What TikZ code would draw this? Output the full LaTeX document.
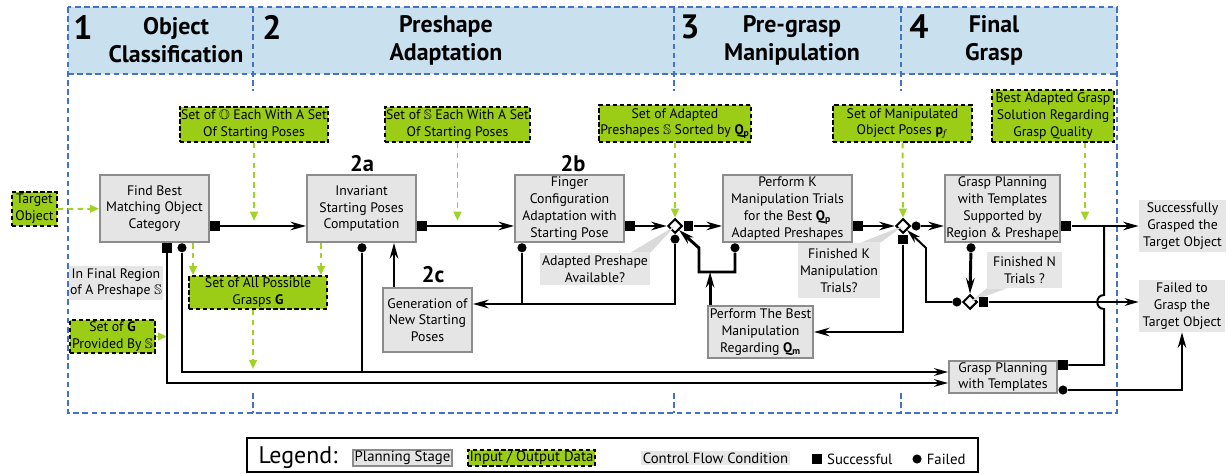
\documentclass[tikz,border=0pt]{standalone}
\usepackage{amssymb}
\usepackage{fontspec}
\setmainfont{PT Sans}
\usetikzlibrary{positioning,shapes.geometric,arrows.meta,calc}

\definecolor{headblue}{RGB}{201,225,239}
\definecolor{frameblue}{RGB}{68,114,196}
\definecolor{datagreen}{RGB}{155,204,22}
\definecolor{feedgreen}{RGB}{160,210,40}
\definecolor{stagefill}{RGB}{229,229,229}
\definecolor{stageline}{RGB}{140,140,140}
\definecolor{condfill}{RGB}{230,230,230}
\definecolor{wedgegray}{RGB}{218,218,218}

\newcommand{\boxfont}{\fontsize{9.8}{11.9}\selectfont}
\newcommand{\legfont}{\fontsize{10.5}{12}\selectfont}

\tikzset{
  frame/.style={frameblue, line width=1.2pt, dash pattern=on 4pt off 2.5pt},
  stage/.style={draw=stageline, line width=1.3pt, fill=stagefill, align=center, inner sep=1pt, font=\boxfont},
  data/.style={draw=black, dash pattern=on 3pt off 2pt, line width=1.2pt, fill=datagreen, align=center, inner sep=1pt, font=\boxfont},
  cond/.style={fill=condfill, align=center, inner sep=1pt, font=\boxfont},
  gate/.style={diamond, draw=black, fill=white, line width=1.5pt, minimum size=0.36cm, inner sep=0pt},
  okmark/.style={rectangle, fill=black, minimum size=7pt, inner sep=0pt},
  nomark/.style={circle, fill=black, minimum size=6.5pt, inner sep=0pt},
  flow/.style={line width=2.1pt, -{Stealth[length=11pt,width=6pt]}},
  thinflow/.style={line width=1.4pt, -{Stealth[length=10pt,width=5.5pt]}},
  feed/.style={feedgreen, line width=1.4pt, dash pattern=on 4pt off 3pt, -{Triangle[length=6.5pt,width=5.5pt]}},
  numtag/.style={font=\fontsize{24}{24}\selectfont\bfseries},
  headtxt/.style={align=center, font=\fontsize{17}{20}\selectfont\bfseries},
  subtag/.style={inner sep=0pt, font=\fontsize{16}{16}\selectfont\bfseries},
}

\begin{document}
\begin{tikzpicture}[x=0.025cm, y=-0.025cm]
\useasboundingbox (0,0) rectangle (1228,473);

% stage columns
\fill[headblue] (68,7) rectangle (1117,74);
\draw[frame] (68,7) rectangle (1117,413);
\draw[frame] (68,74) -- (1117,74);
\foreach \xs in {253,674,901} {
  \draw[frame] (\xs,7) -- (\xs,91);
  \draw[frame] (\xs,393) -- (\xs,413);
}
\node[numtag] (n1) at (83,27) {1};
\node[headtxt] (h1) at (176,40) {Object\\Classification};
\node[numtag] (n2) at (272,27) {2};
\node[headtxt] (h2) at (446,40) {Preshape\\Adaptation};
\node[numtag] (n3) at (690,27) {3};
\node[headtxt] (h3) at (792,40) {Pre-grasp\\Manipulation};
\node[numtag] (n4) at (919,27) {4};
\node[headtxt] (h4) at (994,40) {Final\\Grasp};

% planning stages
\node[stage, minimum width=2.725cm, minimum height=1.675cm] (fb) at (154.5,208.5) {Find Best\\Matching Object\\Category};
\node[stage, minimum width=2.725cm, minimum height=1.675cm] (inv) at (361.5,208.5) {Invariant\\Starting Poses\\Computation};
\node[stage, minimum width=2.725cm, minimum height=1.675cm] (fin) at (569.5,208.5) {Finger\\Configuration\\Adaptation with\\Starting Pose};
\node[stage, minimum width=3.225cm, minimum height=1.675cm] (pk) at (787.5,208.5) {Perform K\\Manipulation Trials\\for the Best $\mathbf{Q}_\mathbf{p}$\\Adapted Preshapes};
\node[stage, minimum width=2.725cm, minimum height=1.675cm] (gp) at (1002.5,208.5) {Grasp Planning\\with Templates\\Supported by\\Region \& Preshape};
\node[stage, minimum width=2.225cm, minimum height=1.6cm] (gen) at (427.5,320) {Generation of\\New Starting\\Poses};
\node[stage, minimum width=2.625cm, minimum height=1.3cm] (pb) at (760.5,332) {Perform The Best\\Manipulation\\Regarding $\mathbf{Q}_\mathbf{m}$};
\node[stage, minimum width=2.7cm, minimum height=0.8cm] (gp2) at (1003,377) {Grasp Planning\\with Templates};
\node[subtag] (t2a) at (362,164) {2a};
\node[subtag] (t2b) at (573,164) {2b};
\node[subtag] (t2c) at (433,275) {2c};

% input / output data
\node[data, minimum width=1.125cm, minimum height=0.85cm] (tgt) at (34.5,209) {Target\\Object};
\node[data, minimum width=3.6cm, minimum height=0.875cm] (so) at (254,124.5) {Set of $\mathbb{O}$ Each With A Set\\Of Starting Poses};
\node[data, minimum width=3.625cm, minimum height=0.875cm] (ss) at (457.5,124.5) {Set of $\mathbb{S}$ Each With A Set\\Of Starting Poses};
\node[data, minimum width=3.8cm, minimum height=0.925cm] (sa) at (675,123.5) {Set of Adapted\\Preshapes $\mathbb{S}$ Sorted by $\mathbf{Q}_\mathbf{p}$};
\node[data, minimum width=3.475cm, minimum height=0.925cm] (sm) at (902.5,123.5) {Set of Manipulated\\Object Poses $\mathbf{p}_{\!f}$};
\node[data, minimum width=3.05cm, minimum height=1.3cm] (bag) at (1053,116) {Best Adapted Grasp\\Solution Regarding\\Grasp Quality};
\node[data, minimum width=3.45cm, minimum height=0.825cm] (sg) at (258,292.5) {Set of All Possible\\Grasps $\mathbf{G}$};
\node[data, minimum width=2.125cm, minimum height=0.825cm] (sgs) at (112.5,336.5) {Set of $\mathbf{G}$\\Provided By $\mathbb{S}$};

% control flow conditions
\node[cond, minimum width=2.3cm, minimum height=0.85cm] (cfr) at (116,283) {In Final Region\\of A Preshape $\mathbb{S}$};
\node[cond, minimum width=2.75cm, minimum height=0.8cm] (cap) at (595,269) {Adapted Preshape\\Available?};
\node[cond, minimum width=2.05cm, minimum height=1.375cm] (cfk) at (839,270.5) {Finished K\\Manipulation\\Trials?};
\node[cond, minimum width=1.875cm, minimum height=0.9cm] (cfn) at (1024.5,270) {Finished N\\Trials ?};
\node[cond, minimum width=2.175cm, minimum height=1.3cm] (okres) at (1182.5,226) {Successfully\\Grasped the\\Target Object};
\node[cond, minimum width=2.15cm, minimum height=1.3cm] (failres) at (1182,306) {Failed to\\Grasp the\\Target Object};

% decisions
\node[gate] (d1) at (675,226) {};
\node[gate] (d2) at (903,226) {};
\node[gate] (d3) at (970,302) {};
\fill[wedgegray] (cap.north east) -- ($(cap.north east)+(-20,0)$) -- (d1.center) -- cycle;
\fill[wedgegray] (cfk.north east) -- ($(cfk.north east)+(-20,0)$) -- (d2.center) -- cycle;
\fill[wedgegray] (cfn.south west) -- ($(cfn.south west)+(20,0)$) -- (d3.center) -- cycle;

% outcome marks
\node[okmark, anchor=west] (fbok) at (fb.east |- 0,226) {};
\node[okmark, anchor=north] (fbok2) at (167,0 |- fb.south) {};
\node[nomark, anchor=north] (fbno) at (182,0 |- fb.south) {};
\node[okmark, anchor=west] (invok) at (inv.east |- 0,226) {};
\node[nomark, anchor=north] (invno) at (362,0 |- inv.south) {};
\node[okmark, anchor=west] (finok) at (fin.east |- 0,226) {};
\node[nomark, anchor=north] (finno) at (522,0 |- fin.south) {};
\node[okmark, anchor=west] (d1ok) at (d1.east) {};
\node[nomark, anchor=north] (d1no) at (d1.south) {};
\node[okmark, anchor=west] (pkok) at (pk.east |- 0,226) {};
\node[nomark, anchor=north] (pkno) at (735,0 |- pk.south) {};
\node[nomark, anchor=west] (d2no) at (d2.east) {};
\node[okmark, anchor=north] (d2ok) at (d2.south) {};
\node[okmark, anchor=west] (gpok) at (gp.east |- 0,226) {};
\node[nomark, anchor=north] (gpno) at (971,0 |- gp.south) {};
\node[nomark, anchor=east] (d3no) at (d3.west) {};
\node[okmark, anchor=west] (d3ok) at (d3.east) {};
\node[okmark, anchor=west] (gp2ok) at (gp2.east |- 0,365) {};
\node[nomark] (gp2no) at (1063,390) {};

% main row
\draw[feed] (tgt) -- (fb);
\draw[flow] (fbok) -- (inv.west |- fbok);
\draw[feed] (so.south) -- (so.south |- fbok.north);
\draw[flow] (invok) -- (fin.west |- invok);
\draw[feed] (ss.south) -- (ss.south |- invok.north);
\draw[flow] (finok) -- (d1.west);
\draw[feed] (sa.south) -- (d1.north);
\draw[flow] (d1ok) -- (pk.west |- d1ok);
\draw[flow] (pkok) -- (d2.west);
\draw[feed] (sm.south) -- (d2.north);
\draw[flow] (d2no) -- (gp.west |- d2no);
\draw[flow] (gpok) -- (okres.west |- gpok);
\draw[feed] (1085,0 |- bag.south) -- (1085,0 |- gpok.north);

% new starting poses
\draw[flow] (d1no) |- (gen.east |- 0,304);
\draw[line width=2.1pt] (finno) -- (finno |- 0,304);
\draw[flow] (394,0 |- gen.north) -- (394,0 |- inv.south);

% manipulation loop
\coordinate (mloop) at (699,272);
\coordinate (pbtop) at ([xshift=0.075cm]pb.north west);
\draw[flow] (pkno) |- (mloop) -- (699,248) -- (d1.south east);
\draw[flow] (pbtop) -- (pbtop |- mloop);
\draw[flow] (d2ok) |- (pb.east);

% final grasp
\draw[flow] (gpno) -- (d3.north);
\draw[thinflow] (d3no) -| (926,248) -- (d2.south east);
\draw[thinflow] (d3ok) -- (failres.west |- d3ok);
\draw[line width=1.4pt] (gp2ok) -| (1104,309) .. controls (1095,309) and (1095,295) .. (1104,295) -- (1104,226);
\draw[flow] (gp2no) -| (failres.south);

% grasps from the region
\coordinate (gjoin) at (253,369);
\draw[feed] (193,0 |- fb.south) -- (193,0 |- sg.north);
\draw[feed] (321,0 |- inv.south) -- (321,0 |- sg.north);
\draw[feed] (253,0 |- sg.south) -- (gjoin);
\draw[feed] (sgs.east) -- (sgs.east -| fbok2);
\draw[thinflow] (fbok2) |- (gp2.west |- 0,383);
\draw[thinflow] (fbno) |- (gp2.west |- 0,372);
\draw[line width=1.4pt] (invno) -- (invno |- 0,372);

% legend
\node[draw, line width=1.4pt, minimum width=18.275cm, minimum height=0.85cm] (legend) at (612.5,455) {};
\node[font=\fontsize{17}{17}\selectfont] (legtitle) at (298,458) {Legend:};
\node[stage, font=\legfont] (legstage) at (402.5,458) {Planning Stage};
\node[data, font=\legfont] (legdata) at (531.5,458) {Input / Output Data};
\node[cond, font=\legfont] (legcond) at (715.5,458) {Control Flow Condition};
\node[okmark] (legok) at (817,459) {};
\node[font=\legfont, right=0pt of legok] (legoktxt) {Successful};
\node[nomark] (legno) at (917,459) {};
\node[font=\legfont, right=0pt of legno] (legnotxt) {Failed};
\end{tikzpicture}
\end{document}
